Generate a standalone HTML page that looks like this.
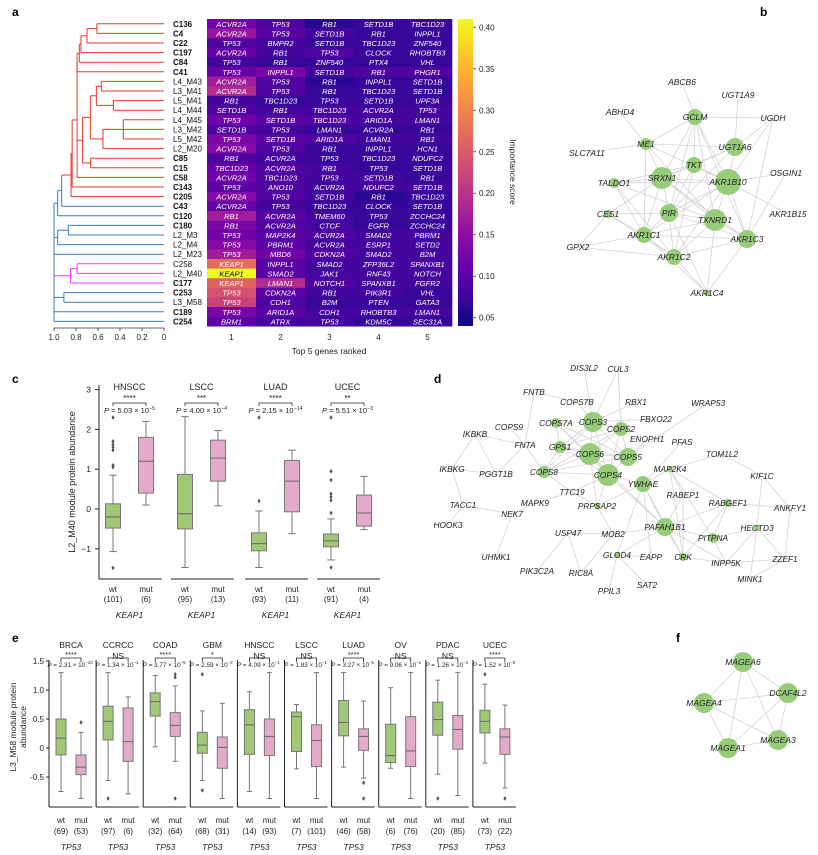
<!DOCTYPE html>
<html><head><meta charset="utf-8"><style>
html,body{margin:0;padding:0;background:#fff;}
svg{display:block;font-family:"Liberation Sans",sans-serif;}
</style></head><body>
<svg id="fig" width="818" height="855" viewBox="0 0 818 855" xmlns="http://www.w3.org/2000/svg"></svg>
<script>
// ---------- DATA ----------
const leafNames=["C136","C4","C22","C197","C84","C41","L4_M43","L3_M41","L5_M41","L4_M44","L4_M45","L3_M42","L5_M42","L2_M20","C85","C15","C58","C143","C205","C43","C120","C180","L2_M3","L2_M4","L2_M23","C258","L2_M40","C177","C253","L3_M58","C189","C254"];
const boldLeaves=[1,1,1,1,1,1,0,0,0,0,0,0,0,0,1,1,1,1,1,1,1,1,0,0,0,0,0,1,1,0,1,1];
const geneNames=[
["ACVR2A","TP53","RB1","SETD1B","TBC1D23"],["ACVR2A","TP53","SETD1B","RB1","INPPL1"],["TP53","BMPR2","SETD1B","TBC1D23","ZNF540"],["ACVR2A","RB1","TP53","CLOCK","RHOBTB3"],["TP53","RB1","ZNF540","PTX4","VHL"],["TP53","INPPL1","SETD1B","RB1","PHGR1"],["ACVR2A","TP53","RB1","INPPL1","SETD1B"],["ACVR2A","TP53","RB1","TBC1D23","SETD1B"],["RB1","TBC1D23","TP53","SETD1B","UPF3A"],["SETD1B","RB1","TBC1D23","ACVR2A","TP53"],["TP53","SETD1B","TBC1D23","ARID1A","LMAN1"],["SETD1B","TP53","LMAN1","ACVR2A","RB1"],["TP53","SETD1B","ARID1A","LMAN1","RB1"],["ACVR2A","TP53","RB1","INPPL1","HCN1"],["RB1","ACVR2A","TP53","TBC1D23","NDUFC2"],["TBC1D23","ACVR2A","RB1","TP53","SETD1B"],["ACVR2A","TBC1D23","TP53","SETD1B","RB1"],["TP53","ANO10","ACVR2A","NDUFC2","SETD1B"],["ACVR2A","TP53","SETD1B","RB1","TBC1D23"],["ACVR2A","TP53","TBC1D23","CLOCK","SETD1B"],["RB1","ACVR2A","TMEM60","TP53","ZCCHC24"],["RB1","ACVR2A","CTCF","EGFR","ZCCHC24"],["TP53","MAP2K4","ACVR2A","SMAD2","PBRM1"],["TP53","PBRM1","ACVR2A","ESRP1","SETD2"],["TP53","MBD6","CDKN2A","SMAD2","B2M"],["KEAP1","INPPL1","SMAD2","ZFP36L2","SPANXB1"],["KEAP1","SMAD2","JAK1","RNF43","NOTCH"],["KEAP1","LMAN1","NOTCH1","SPANXB1","FGFR2"],["TP53","CDKN2A","RB1","PIK3R1","VHL"],["TP53","CDH1","B2M","PTEN","GATA3"],["TP53","ARID1A","CDH1","RHOBTB3","LMAN1"],["BRM1","ATRX","TP53","KDM5C","SEC31A"]];
const importance=[
[.12,.09,.06,.07,.07],[.16,.10,.08,.07,.07],[.09,.08,.07,.07,.07],[.11,.08,.09,.07,.07],[.08,.07,.07,.07,.07],[.11,.13,.08,.09,.09],[.17,.09,.06,.07,.07],[.19,.09,.07,.07,.07],[.08,.07,.07,.07,.07],[.09,.08,.08,.08,.08],[.12,.10,.09,.08,.08],[.09,.08,.07,.07,.07],[.13,.10,.09,.08,.08],[.14,.09,.07,.07,.07],[.09,.08,.07,.07,.07],[.11,.09,.08,.07,.07],[.12,.09,.08,.08,.07],[.10,.09,.08,.08,.08],[.14,.09,.08,.06,.07],[.11,.08,.07,.07,.07],[.17,.10,.08,.07,.07],[.13,.09,.08,.07,.07],[.12,.10,.09,.08,.08],[.14,.10,.08,.08,.08],[.17,.12,.09,.08,.08],[.27,.10,.08,.08,.08],[.41,.10,.08,.08,.08],[.26,.19,.09,.08,.08],[.24,.10,.08,.08,.07],[.22,.09,.07,.07,.07],[.13,.10,.08,.08,.08],[.10,.08,.08,.07,.07]];
const colorbarTicks=[0.05,0.10,0.15,0.20,0.25,0.30,0.35,0.40];
const dendroTicks=[1.0,0.8,0.6,0.4,0.2,0];
const dendroTickLabels=["1.0","0.8","0.6","0.4","0.2","0"];
// dendrogram tree: {d: height, k: children, c: color}
const R='#e8362b',B='#3a7db6',M='#f03cf0';
const t1={d:.61,k:[0,1],c:R},t2={d:.70,k:[t1,2],c:R},t3={d:.755,k:[t2,3],c:R},t4={d:.77,k:[t3,4],c:R},t5={d:.79,k:[t4,5],c:R};
const tA={d:.57,k:[6,7],c:R},tB={d:.46,k:[8,9],c:R},tAB={d:.615,k:[tA,tB],c:R},tC={d:.37,k:[10,11,12],c:R},tCD={d:.555,k:[tC,13],c:R},tABCD={d:.67,k:[tAB,tCD],c:R},tE={d:.667,k:[14,15],c:R},tF={d:.74,k:[tABCD,tE],c:R},tG={d:.79,k:[t5,tF,16],c:R},tH={d:.835,k:[tG,17],c:R},tI={d:.845,k:[tH,18],c:R};
const tJ={d:.93,k:[tI,19],c:B},tK={d:.967,k:[tJ,20],c:B},tL={d:.87,k:[21,22],c:B},tM={d:.967,k:[tL,23],c:B},tN={d:.79,k:[25,26],c:M},tO={d:.85,k:[tN,27],c:M},tP={d:.91,k:[28,29],c:B};
const tRoot={d:1.0,k:[tK,tM,24,tO,tP,30,31],c:B};

// panel c
const cCancers=["HNSCC","LSCC","LUAD","UCEC"];
const cStars=["****","***","****","**"];
const cPmant=["5.03","4.00","2.15","5.51"];
const cPexp=["−5","−4","−14","−3"];
const cWtN=["(101)","(95)","(93)","(91)"];
const cMutN=["(6)","(13)","(11)","(4)"];
const cWt=[[-0.48,-0.2,0.13,-1.07,0.85],[-0.5,-0.12,0.87,-1.47,2.32],[-1.05,-0.87,-0.6,-1.47,-0.05],[-0.95,-0.8,-0.63,-1.28,-0.25]];
const cMut=[[0.4,1.2,1.8,0.1,2.2],[0.7,1.28,1.73,0.08,1.97],[-0.07,0.7,1.22,-0.62,1.48],[-0.43,-0.1,0.35,-0.52,0.82]];
const cWtOut=[[2.3,1.7,1.62,1.55,1.48,1.1,1.05,-1.48],[],[2.3,0.2],[2.3,0.95,0.73,0.38,0.3,0.22,-0.1,-1.47]];
const cMutOut=[[],[],[],[]];
const cYTicks=[3,2,1,0,-1];

// panel e
const eCancers=["BRCA","CCRCC","COAD","GBM","HNSCC","LSCC","LUAD","OV","PDAC","UCEC"];
const eStars=["****","NS","****","*","NS","NS","****","NS","NS","****"];
const ePmant=["2.31","1.34","3.77","2.59","4.09","1.83","3.27","9.06","1.26","1.52"];
const ePexp=["−10","−1","−5","−2","−1","−1","−5","−1","−1","−5"];
const eWtN=["(69)","(97)","(32)","(68)","(14)","(7)","(46)","(6)","(20)","(73)"];
const eMutN=["(53)","(6)","(64)","(31)","(93)","(101)","(58)","(76)","(85)","(22)"];
const eWt=[[-0.12,.17,.5,-.75,1.3],[.14,.46,.72,-.56,1.3],[.55,.8,.95,.02,1.25],[-.09,.05,.27,-.56,.64],[-.11,.4,.66,-.75,.97],[-.06,.54,.62,-.36,.75],[.21,.44,.82,-.33,1.3],[-.25,-.13,.41,-.35,1.04],[.22,.49,.79,-.45,1.17],[.26,.46,.65,-.26,1.1]];
const eMut=[[-.46,-.33,-.12,-.87,.27],[-.23,.11,.69,-.79,.88],[.2,.39,.61,-.23,1.07],[-.35,.01,.19,-.87,.77],[-.13,.2,.5,-.87,1.3],[-.32,.13,.4,-.87,1.3],[-.04,.2,.33,-.52,.81],[-.32,-.05,.54,-.87,1.3],[-.02,.32,.56,-.82,1.3],[-.11,.19,.33,-.69,.74]];
const eWtOut=[[],[-.87],[],[1.27,-.73],[],[],[],[],[-.87],[1.27]];
const eMutOut=[[.44],[],[1.27,1.22,-.87],[],[],[],[-.6,-.87],[],[],[-.87]];
const eYTicks=[1.5,1.0,0.5,0,-0.5];
const eYTickLabels=["1.5","1.0","0.5","0","-0.5"];

// networks
const bNodes=[["GCLM",695,117,8],["ME1",646,144,6],["UGT1A6",735,147,9],["TKT",694,165,8],["SRXN1",662,178,11],["AKR1B10",728,182,13],["TALDO1",614,183,5],["PIR",669,213,9],["TXNRD1",715,220,11],["CES1",608,214,4],["AKR1C1",644,235,8],["AKR1C3",747,239,9],["AKR1C2",674,257,8],["AKR1C4",707,293,3],["ABCB6",682,82,0],["UGT1A9",738,95,0],["ABHD4",620,112,0],["UGDH",773,118,0],["SLC7A11",587,153,0],["OSGIN1",786,173,0],["AKR1B15",788,214,0],["GPX2",578,247,0]];
const bEdges=["GCLM-ABCB6","GCLM-UGDH","GCLM-ME1","GCLM-SRXN1","GCLM-TKT","GCLM-AKR1B10","GCLM-TXNRD1","GCLM-PIR","GCLM-AKR1C3","ME1-ABHD4","ME1-UGT1A6","ME1-SRXN1","ME1-AKR1B10","ME1-SLC7A11","ME1-AKR1C1","ME1-TXNRD1","UGT1A6-UGT1A9","UGT1A6-UGDH","UGT1A6-AKR1B10","UGT1A6-TKT","UGT1A6-PIR","UGT1A6-SRXN1","TKT-SRXN1","TKT-AKR1B10","TKT-TALDO1","TKT-PIR","TKT-AKR1C2","SRXN1-TALDO1","SRXN1-AKR1B10","SRXN1-PIR","SRXN1-TXNRD1","SRXN1-AKR1C1","SRXN1-CES1","SRXN1-AKR1C3","AKR1B10-OSGIN1","AKR1B10-AKR1B15","AKR1B10-TXNRD1","AKR1B10-PIR","AKR1B10-AKR1C1","AKR1B10-AKR1C2","AKR1B10-AKR1C3","AKR1B10-TALDO1","AKR1B10-UGDH","TALDO1-AKR1C1","TALDO1-TXNRD1","TALDO1-AKR1C2","PIR-TXNRD1","PIR-CES1","PIR-AKR1C1","PIR-AKR1C2","PIR-AKR1C3","PIR-AKR1C4","TXNRD1-AKR1C3","TXNRD1-AKR1C1","TXNRD1-AKR1C2","TXNRD1-AKR1C4","CES1-AKR1C1","CES1-GPX2","CES1-AKR1C2","AKR1C1-AKR1C2","AKR1C1-AKR1C3","AKR1C1-GPX2","AKR1C1-AKR1C4","AKR1C2-AKR1C3","AKR1C2-AKR1C4","AKR1C3-AKR1C4","AKR1C3-OSGIN1","GPX2-AKR1C2","UGDH-AKR1C3"];
const dNodes=[["COPS3",593,422,10],["COPS2",621,429,7],["COPS7A",556,423,5],["GPS1",560,447,6],["COPS6",590,454,11],["COPS5",628,457,9],["COPS8",544,472,6],["COPS4",608,475,11],["YWHAE",643,484,8],["PAFAH1B1",665,527,9],["PITPNA",713,538,5],["CRK",683,557,4],["RABGEF1",728,503,4],["HECTD3",757,528,3],["PRPSAP2",597,506,3],["GLOD4",617,555,3],["MAP2K4",670,469,3],["DIS3L2",584,368,0],["CUL3",618,369,0],["FNTB",534,392,0],["COPS7B",577,402,0],["RBX1",636,402,0],["WRAP53",708,403,0],["FBXO22",656,419,0],["COPS9",509,427,0],["IKBKB",475,434,0],["ENOPH1",647,439,0],["PFAS",682,442,0],["FNTA",525,445,0],["TOM1L2",722,454,0],["IKBKG",452,469,0],["PGGT1B",496,474,0],["KIF1C",762,476,0],["TTC19",572,492,0],["RABEP1",683,495,0],["MAPK9",535,503,0],["TACC1",463,505,0],["ANKFY1",790,508,0],["NEK7",512,514,0],["HOOK3",448,525,0],["USP47",568,533,0],["MOB2",613,534,0],["UHMK1",496,557,0],["EAPP",651,557,0],["INPP5K",726,563,0],["ZZEF1",785,559,0],["PIK3C2A",537,571,0],["RIC8A",581,573,0],["MINK1",750,579,0],["PPIL3",609,591,0],["SAT2",647,585,0]];
const dEdges=["COPS3-COPS2","COPS3-COPS7A","COPS3-GPS1","COPS3-COPS6","COPS3-COPS5","COPS3-COPS8","COPS3-COPS4","COPS3-COPS7B","COPS3-RBX1","COPS3-CUL3","COPS3-DIS3L2","COPS3-FBXO22","COPS2-COPS6","COPS2-COPS5","COPS2-COPS4","COPS2-GPS1","COPS2-COPS8","COPS2-CUL3","COPS7A-COPS6","COPS7A-COPS4","COPS7A-COPS5","COPS7A-GPS1","GPS1-COPS6","GPS1-COPS8","GPS1-COPS4","GPS1-COPS5","COPS6-COPS5","COPS6-COPS4","COPS6-COPS8","COPS5-COPS4","COPS5-COPS8","COPS8-COPS4","COPS5-WRAP53","COPS5-ENOPH1","COPS4-YWHAE","YWHAE-PAFAH1B1","YWHAE-MAP2K4","YWHAE-EAPP","YWHAE-CRK","YWHAE-GLOD4","YWHAE-PRPSAP2","YWHAE-PFAS","FNTB-FNTA","FNTB-COPS7B","IKBKB-IKBKG","IKBKB-PGGT1B","IKBKB-FNTA","IKBKG-PGGT1B","IKBKG-TACC1","TACC1-HOOK3","TACC1-NEK7","NEK7-UHMK1","NEK7-MAPK9","COPS9-FNTA","FNTA-PGGT1B","FNTA-COPS8","MAP2K4-TOM1L2","MAP2K4-RABEP1","MAP2K4-PITPNA","MAP2K4-CRK","RABEP1-PAFAH1B1","RABEP1-CRK","RABGEF1-PAFAH1B1","RABGEF1-ANKFY1","RABGEF1-PITPNA","RABGEF1-CRK","RABGEF1-MAP2K4","KIF1C-TOM1L2","KIF1C-HECTD3","KIF1C-ANKFY1","HECTD3-ZZEF1","HECTD3-INPP5K","HECTD3-MINK1","HECTD3-PITPNA","ANKFY1-ZZEF1","ZZEF1-INPP5K","MINK1-ZZEF1","PITPNA-INPP5K","PAFAH1B1-PITPNA","PAFAH1B1-CRK","PAFAH1B1-MOB2","PAFAH1B1-INPP5K","PAFAH1B1-GLOD4","CRK-INPP5K","MOB2-USP47","MOB2-RIC8A","USP47-PIK3C2A","USP47-RIC8A","GLOD4-PPIL3","GLOD4-SAT2","GLOD4-EAPP","PRPSAP2-TTC19","TTC19-COPS4","TTC19-MAPK9","PRPSAP2-COPS6","PRPSAP2-MOB2","COPS8-TTC19","COPS6-PAFAH1B1","COPS4-PAFAH1B1","COPS4-PRPSAP2"];
const fNodes=[["MAGEA6",743,662,10],["DCAF4L2",788,693,10],["MAGEA4",704,703,10],["MAGEA3",778,740,10],["MAGEA1",728,748,10]];
const fEdges=["MAGEA6-DCAF4L2","MAGEA6-MAGEA4","MAGEA6-MAGEA3","MAGEA6-MAGEA1","DCAF4L2-MAGEA4","DCAF4L2-MAGEA3","DCAF4L2-MAGEA1","MAGEA4-MAGEA3","MAGEA4-MAGEA1","MAGEA1-MAGEA3"];

// ---------- HELPERS ----------
const NS='http://www.w3.org/2000/svg';
const svg=document.getElementById('fig');
function mk(tag,attrs,parent){const e=document.createElementNS(NS,tag);for(const k in attrs)e.setAttribute(k,attrs[k]);(parent||svg).appendChild(e);return e;}
function txt(s,x,y,opt,parent){const e=mk('text',Object.assign({x:x,y:y,'font-size':8,fill:'#222'},opt||{}),parent);e.textContent=s;return e;}
const plasma=['#0d0887','#41049d','#6a00a8','#8f0da4','#b12a90','#cc4778','#e16462','#f2844b','#fca636','#fcce25','#f0f921'];
function hex(h){return [1,3,5].map(i=>parseInt(h.substr(i,2),16));}
function cmap(t){t=Math.max(0,Math.min(1,t))*10;const i=Math.min(9,Math.floor(t)),f=t-i;const a=hex(plasma[i]),b=hex(plasma[i+1]);return 'rgb('+a.map((v,j)=>Math.round(v+(b[j]-v)*f)).join(',')+')';}
const vmin=0.04,vmax=0.41;

// panel labels
[['a',12,16],['b',760,16],['c',12,383],['d',434,383],['e',12,642],['f',676,642]].forEach(p=>{const e=txt(p[0],p[1],p[2],{'font-size':12,'font-weight':'bold',fill:'#000'});

});

// ---------- PANEL A ----------
const gA=mk('g',{});


const rowY=i=>19+9.6*i+4.8;
const dx=d=>164-110*d;
function drawNode(n){
  if(typeof n==='number')return {y:rowY(n),x:dx(0)};
  const X=dx(n.d);const ys=[];
  n.k.forEach(ch=>{const p=drawNode(ch);const col=(typeof ch==='number')?n.c:ch.c;
    const h=mk('line',{x1:p.x,y1:p.y,x2:X,y2:p.y,stroke:col,'stroke-width':1},gA);
    
    
    ys.push(p.y);});
  const v=mk('line',{x1:X,y1:Math.min(...ys),x2:X,y2:Math.max(...ys),stroke:n.c,'stroke-width':1},gA);
  
  
  return {x:X,y:(Math.min(...ys)+Math.max(...ys))/2};
}
drawNode(tRoot);
const dax=mk('line',{x1:dx(1),y1:328,x2:dx(0),y2:328,stroke:'#333','stroke-width':0.8},gA);


dendroTicks.forEach((v,i)=>{const tk=mk('line',{x1:dx(v),y1:328,x2:dx(v),y2:331,stroke:'#333','stroke-width':0.8},gA);


const l=txt(dendroTickLabels[i],dx(v),340,{'text-anchor':'middle','font-size':8},gA);

});
leafNames.forEach((n,i)=>{const l=txt(n,173,rowY(i)+3,{'font-size':8,'font-weight':boldLeaves[i]?'bold':'normal',fill:'#111'},gA);

});
// heatmap
geneNames.forEach((row,i)=>row.forEach((g,j)=>{const v=importance[i][j];
  const r=mk('rect',{x:207+49*j,y:19+9.6*i,width:49.3,height:9.9,fill:cmap((v-vmin)/(vmax-vmin))},gA);
  
  
  const t=txt(g,207+49*j+24.5,19+9.6*i+7.8,{'text-anchor':'middle','font-size':7.6,'font-style':'italic',fill:v>0.35?'#000':'#fff'},gA);
  
  }));
[1,2,3,4,5].forEach(j=>{const l=txt(String(j),207+49*(j-1)+24.5,340,{'text-anchor':'middle','font-size':8},gA);

});
const hxt=txt('Top 5 genes ranked',329,354,{'text-anchor':'middle','font-size':8.5},gA);


// colorbar
const defs=mk('defs',{});
const lg=mk('linearGradient',{id:'cbg',x1:0,y1:1,x2:0,y2:0},defs);
plasma.forEach((c,i)=>mk('stop',{offset:(i*10)+'%','stop-color':c},lg));
const cb=mk('rect',{x:458,y:19,width:15,height:307,fill:'url(#cbg)'},gA);


const cbY=v=>326-(v-vmin)/(vmax-vmin)*307;
colorbarTicks.forEach(v=>{const tk=mk('line',{x1:473,y1:cbY(v),x2:476,y2:cbY(v),stroke:'#333','stroke-width':0.8},gA);


const l=txt(v.toFixed(2),479,cbY(v)+3,{'font-size':8},gA);

});
const cbt=txt('Importance score',0,0,{'font-size':8.5,'text-anchor':'middle',transform:'translate(510,172) rotate(90)'},gA);



// ---------- NETWORKS ----------
function network(nodes,edges,gname,fs,nodeName){
  const g=mk('g',{});
  
  
  const idx={};nodes.forEach(n=>idx[n[0]]=n);
  edges.forEach(e=>{const [a,b]=e.split('-');const A=idx[a],Bn=idx[b];if(!A||!Bn)return;
    const l=mk('line',{x1:A[1],y1:A[2],x2:Bn[1],y2:Bn[2],stroke:'#d4d4d4','stroke-width':0.8},g);
    
    });
  nodes.forEach(n=>{if(n[3]>0){const c=mk('circle',{cx:n[1],cy:n[2],r:n[3],fill:'#97cc7a'},g);
    
    }});
  nodes.forEach(n=>{const t=txt(n[0],n[1],n[2]+3,{'text-anchor':'middle','font-size':fs,'font-style':'italic',fill:'#222'},g);
    
    });
}
network(bNodes,bEdges,'panel-b-network',8.5,'network-node');
network(dNodes,dEdges,'panel-d-network',8.3,'network-node');
network(fNodes,fEdges,'panel-f-network',8.5,'network-node');

// ---------- BOX PLOTS ----------
function box(g,cx,w,st,outs,fill,Y){
  const [q1,md,q3,lo,hi]=st;
  const wl=mk('line',{x1:cx,y1:Y(hi),x2:cx,y2:Y(q3),stroke:'#777','stroke-width':1},g);
  
  
  const wl2=mk('line',{x1:cx,y1:Y(q1),x2:cx,y2:Y(lo),stroke:'#777','stroke-width':1},g);
  
  
  [hi,lo].forEach(v=>{const c=mk('line',{x1:cx-w/4,y1:Y(v),x2:cx+w/4,y2:Y(v),stroke:'#777','stroke-width':1},g);
    
    });
  const r=mk('rect',{x:cx-w/2,y:Y(q3),width:w,height:Y(q1)-Y(q3),fill:fill,stroke:'#777','stroke-width':1},g);
  
  
  const m=mk('line',{x1:cx-w/2,y1:Y(md),x2:cx+w/2,y2:Y(md),stroke:'#666','stroke-width':1},g);
  
  
  outs.forEach(v=>{const o=mk('path',{d:`M${cx},${Y(v)-2.3}L${cx+1.6},${Y(v)}L${cx},${Y(v)+2.3}L${cx-1.6},${Y(v)}Z`,fill:'#555'},g);
    
    });
}
function ptext(g,x,y,mant,ex,fs){const t=mk('text',{x:x,y:y,'font-size':fs,'text-anchor':'middle',fill:'#222'},g);
  const p=mk('tspan',{'font-style':'italic'},t);p.textContent='P';
  const a=mk('tspan',{},t);a.textContent=' = '+mant+' × 10';
  const s=mk('tspan',{dy:-3,'font-size':fs*0.7},t);s.textContent=ex;
  
  }

// panel c
const gC=mk('g',{});


const Yc=v=>509-39.8*v;
const cStart=[99,171,245,317],cW=63;
const cyax=mk('line',{x1:99,y1:385,x2:99,y2:579,stroke:'#222','stroke-width':1},gC);


cYTicks.forEach(v=>{const tk=mk('line',{x1:95,y1:Yc(v),x2:99,y2:Yc(v),stroke:'#222','stroke-width':1},gC);


const l=txt(String(v).replace('-','−'),91,Yc(v)+3,{'text-anchor':'end','font-size':8.5},gC);

});
const cyt=txt('L2_M40 module protein abundance',0,0,{'font-size':9,'text-anchor':'middle',transform:'translate(75,482) rotate(-90)'},gC);


cCancers.forEach((c,i)=>{const s=cStart[i],w=s+14,m=s+47;
  const ax=mk('line',{x1:s,y1:579,x2:s+cW,y2:579,stroke:'#222','stroke-width':1},gC);
  
  
  box(gC,w,15,cWt[i],cWtOut[i],'#a0c877',Yc);
  box(gC,m,15,cMut[i],cMutOut[i],'#e3abc9',Yc);
  const t=txt(c,(w+m)/2,390,{'text-anchor':'middle','font-size':9},gC);
  
  
  const br=mk('path',{d:`M${w},406V403H${m}V406`,fill:'none',stroke:'#222','stroke-width':0.8},gC);
  
  
  const st=txt(cStars[i],(w+m)/2,401,{'text-anchor':'middle','font-size':8},gC);
  
  
  ptext(gC,(w+m)/2,413,cPmant[i],cPexp[i],7.5);
  [[w,'wt',cWtN[i]],[m,'mut',cMutN[i]]].forEach(q=>{const a=txt(q[1],q[0],592,{'text-anchor':'middle','font-size':8},gC);
    
    
    const b=txt(q[2],q[0],602,{'text-anchor':'middle','font-size':8},gC);
    
    });
  const k=txt('KEAP1',(w+m)/2,618,{'text-anchor':'middle','font-size':8.5,'font-style':'italic'},gC);
  
  });

// panel e
const gE=mk('g',{});


const Ye=v=>748-58*v;
eYTicks.forEach((v,i)=>{const tk=mk('line',{x1:46,y1:Ye(v),x2:49,y2:Ye(v),stroke:'#222','stroke-width':1},gE);


const l=txt(eYTickLabels[i],44,Ye(v)+3,{'text-anchor':'end','font-size':8},gE);

});
const eyt=txt('L3_M58 module protein',0,0,{'font-size':8.5,'text-anchor':'middle',transform:'translate(16,727) rotate(-90)'},gE);


const eyt2=txt('abundance',0,0,{'font-size':8.5,'text-anchor':'middle',transform:'translate(26,727) rotate(-90)'},gE);


eCancers.forEach((c,i)=>{const s=49+47.1*i,w=s+12,m=s+32;
  const ay=mk('line',{x1:s,y1:660,x2:s,y2:807,stroke:'#222','stroke-width':1},gE);
  
  
  const ax=mk('line',{x1:s,y1:807,x2:s+43,y2:807,stroke:'#222','stroke-width':1},gE);
  
  
  box(gE,w,10,eWt[i],eWtOut[i],'#a0c877',Ye);
  box(gE,m,10,eMut[i],eMutOut[i],'#e3abc9',Ye);
  const t=txt(c,(w+m)/2,648,{'text-anchor':'middle','font-size':8.5},gE);
  
  
  const br=mk('path',{d:`M${w},662V658H${m}V662`,fill:'none',stroke:'#222','stroke-width':0.8},gE);
  
  
  const st=txt(eStars[i],(w+m)/2,eStars[i]==='NS'?659:657,{'text-anchor':'middle','font-size':eStars[i]==='NS'?8.5:7.5},gE);
  
  
  ptext(gE,s+21,667,ePmant[i],ePexp[i],6.3);
  [[w,'wt',eWtN[i]],[m,'mut',eMutN[i]]].forEach(q=>{const a=txt(q[1],q[0],823,{'text-anchor':'middle','font-size':8},gE);
    
    
    const b=txt(q[2],q[0],834,{'text-anchor':'middle','font-size':8},gE);
    
    });
  const k=txt('TP53',(w+m)/2,850,{'text-anchor':'middle','font-size':8.5,'font-style':'italic'},gE);
  
  });
</script>
</body></html>
